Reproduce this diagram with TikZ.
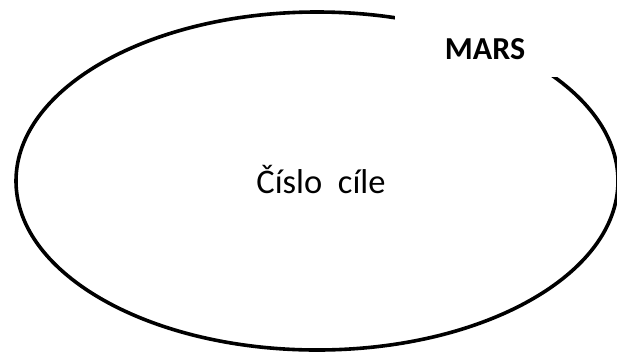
\documentclass[tikz,border=0pt]{standalone}
\usepackage{fontspec}
\setmainfont{Carlito}
\begin{document}
\begin{tikzpicture}[x=1pt,y=-1pt,
  outline/.style={line width=3.6pt,draw=black},
  labelbox/.style={fill=white,draw=none},
  maintext/.style={font=\fontsize{34.5}{40}\selectfont,inner sep=0pt,anchor=base},
  marstext/.style={font=\fontsize{32}{36}\selectfont\bfseries,inner sep=0pt,anchor=base}]
\useasboundingbox (0,0) rectangle (617,354);
\draw[outline] (317,181) ellipse [x radius=301, y radius=169];
\fill[labelbox] (395,-5) rectangle (625,77);
\node[marstext] (mars) at (485,59) {MARS};
\node[maintext] (center) at (321,193) {Číslo\ \ cíle};
\end{tikzpicture}
\end{document}
